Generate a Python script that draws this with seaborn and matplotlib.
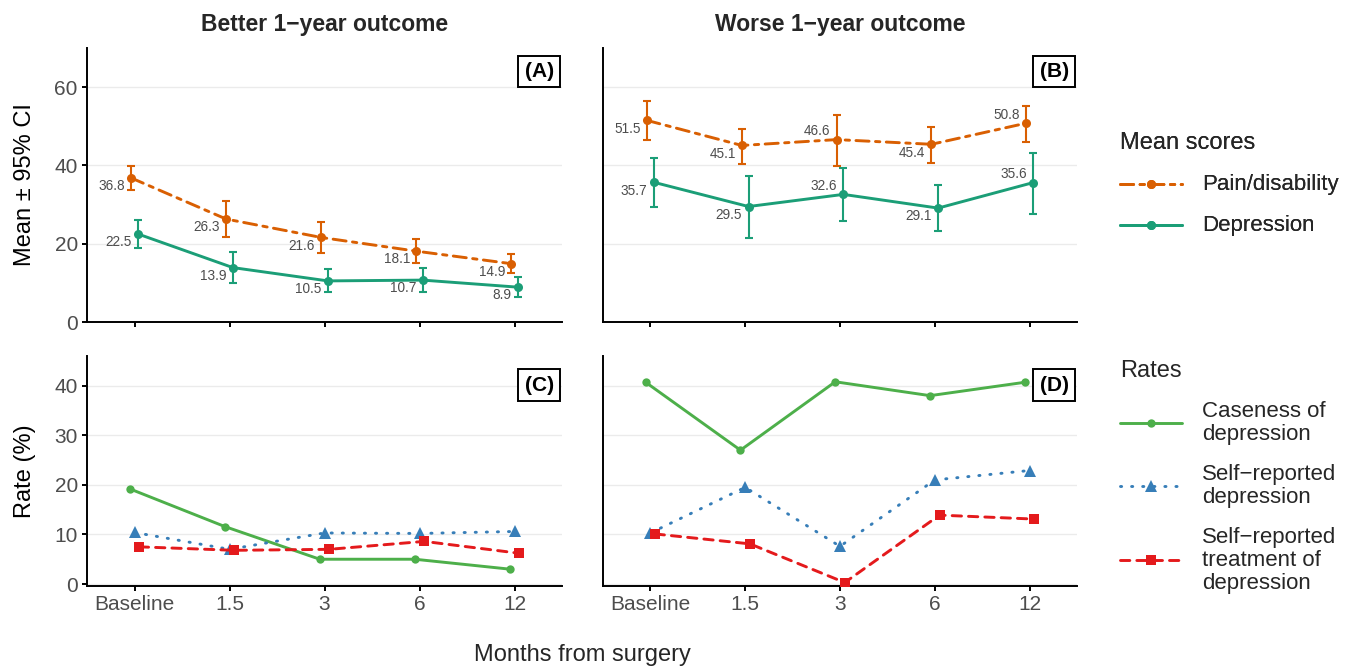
import numpy as np
import pandas as pd
import matplotlib
matplotlib.use("Agg")
import matplotlib.pyplot as plt
from matplotlib.lines import Line2D
import seaborn as sns

months = ["Baseline", "1.5", "3", "6", "12"]

# mean scores with 95% CI
better_pain = [36.8, 26.3, 21.6, 18.1, 14.9]
better_pain_lo = [33.6, 21.7, 17.7, 15.0, 12.4]
better_pain_hi = [39.8, 30.8, 25.6, 21.2, 17.5]
better_dep = [22.5, 13.9, 10.5, 10.7, 8.9]
better_dep_lo = [18.9, 10.0, 7.6, 7.7, 6.4]
better_dep_hi = [26.0, 17.8, 13.5, 13.7, 11.4]

worse_pain = [51.5, 45.1, 46.6, 45.4, 50.8]
worse_pain_lo = [46.4, 40.4, 39.8, 40.6, 45.9]
worse_pain_hi = [56.4, 49.3, 53.0, 49.9, 55.3]
worse_dep = [35.7, 29.5, 32.6, 29.1, 35.6]
worse_dep_lo = [29.4, 21.5, 25.7, 23.2, 27.6]
worse_dep_hi = [42.0, 37.3, 39.3, 34.9, 43.3]

# rates (%)
better_caseness = [19.2, 11.6, 5.0, 5.0, 3.0]
better_selfrep = [10.4, 7.0, 10.3, 10.2, 10.6]
better_treat = [7.5, 6.8, 7.0, 8.6, 6.2]
worse_caseness = [40.7, 27.0, 40.8, 38.0, 40.7]
worse_selfrep = [10.3, 19.5, 7.6, 21.0, 22.9]
worse_treat = [10.1, 8.1, 0.3, 13.9, 13.1]

# where the value labels sit relative to the point
better_label_side = ["below"] * 5
worse_label_side = ["below", "below", "above", "below", "above"]

sns.set_theme(style="white")
plt.rcParams['font.family'] = ['Liberation Sans', 'DejaVu Sans']
plt.rcParams['axes.unicode_minus'] = True
plt.rcParams['lines.dash_capstyle'] = 'round'

ORANGE, TEAL = "#D95F02", "#1B9E77"
GREEN, BLUE, RED = "#4DAF4A", "#377EB8", "#E41A1C"
GREY = "#4D4D4D"

mean_styles = {
    "Pain/disability": dict(color=ORANGE, linestyle=(0, (4.5, 2.2, 1.5, 2.2)), marker="o", markersize=6.5, off=-0.035),
    "Depression": dict(color=TEAL, linestyle="-", marker="o", markersize=6.5, off=0.035),
}
rate_styles = {
    "Caseness of\ndepression": dict(color=GREEN, linestyle="-", marker="o", markersize=6, off=-0.05),
    "Self\u2212reported\ndepression": dict(color=BLUE, linestyle=(0, (0.4, 3.4)), marker="^", markersize=8, off=0.0),
    "Self\u2212reported\ntreatment of\ndepression": dict(color=RED, linestyle=(0, (3.2, 2.4)), marker="s", markersize=7, off=0.05),
}

W, H = 1354, 667
fig = plt.figure(figsize=(W / 100, H / 100), dpi=100)


def px_axes(l, t, r, b):
    return fig.add_axes([l / W, 1 - b / H, (r - l) / W, (b - t) / H])


axA = px_axes(87, 48, 562, 322)
axB = px_axes(603, 48, 1077, 322)
axC = px_axes(87, 356, 562, 586)
axD = px_axes(603, 356, 1077, 586)

x = np.arange(len(months))


def draw_series(ax, name, vals, st):
    df = pd.DataFrame({"x": x + st["off"], "y": vals})
    sns.lineplot(data=df, x="x", y="y", ax=ax, color=st["color"], linestyle=st["linestyle"],
                 marker=st["marker"], markersize=st["markersize"], markeredgewidth=0,
                 linewidth=2.1, legend=False, zorder=3)
    return df


def draw_means(ax, series, sides):
    for name, vals, lo, hi in series:
        st = mean_styles[name]
        vals = np.array(vals)
        ax.errorbar(x + st["off"], vals, yerr=[vals - np.array(lo), np.array(hi) - vals],
                    fmt="none", ecolor=st["color"], elinewidth=1.5, capsize=3, capthick=1.5, zorder=2)
        df = draw_series(ax, name, vals, st)
        for xi, yi, side in zip(df.x, df.y, sides):
            dy = -6 if side == "below" else 6
            ax.annotate(f"{yi:.1f}", xy=(xi, yi), xytext=(-4.5, dy), textcoords="offset points",
                        ha="right", va="center", fontsize=9.8, color=GREY)
    ax.set_ylim(0, 70)
    ax.set_yticks([0, 20, 40, 60])


def draw_rates(ax, series):
    for name, vals in series:
        draw_series(ax, name, vals, rate_styles[name])
    ax.set_ylim(-0.4, 46)
    ax.set_yticks([0, 10, 20, 30, 40])


draw_means(axA, [("Pain/disability", better_pain, better_pain_lo, better_pain_hi),
                 ("Depression", better_dep, better_dep_lo, better_dep_hi)], better_label_side)
draw_means(axB, [("Pain/disability", worse_pain, worse_pain_lo, worse_pain_hi),
                 ("Depression", worse_dep, worse_dep_lo, worse_dep_hi)], worse_label_side)
rate_names = list(rate_styles)
draw_rates(axC, zip(rate_names, [better_caseness, better_selfrep, better_treat]))
draw_rates(axD, zip(rate_names, [worse_caseness, worse_selfrep, worse_treat]))

for ax, letter, oy in [(axA, "(A)", -17), (axB, "(B)", -17), (axC, "(C)", -21), (axD, "(D)", -21)]:
    ax.set_xlim(-0.5, 4.5)
    ax.set_xticks(x)
    ax.set_xticklabels(months)
    ax.set_xlabel("")
    ax.set_ylabel("")
    sns.despine(ax=ax)
    for s in ["left", "bottom"]:
        ax.spines[s].set_color("black")
        ax.spines[s].set_linewidth(1.4)
    ax.yaxis.grid(True, color="#EBEBEB", linewidth=1.0)
    ax.xaxis.grid(False)
    ax.set_axisbelow(True)
    ax.tick_params(axis="both", length=3.6, width=1.4, color="black", labelsize=15,
                   labelcolor=GREY, pad=3, bottom=True, left=True)
    ax.annotate(letter, xy=(1, 1), xycoords="axes fraction", xytext=(-16.5, oy),
                textcoords="offset points", ha="center", va="center", fontsize=15,
                fontweight="bold", color="black",
                bbox=dict(boxstyle="square,pad=0.3", fc="white", ec="black", lw=1.4))

for ax in (axA, axB):
    ax.tick_params(axis="x", labelbottom=False)
for ax in (axB, axD):
    ax.tick_params(axis="y", length=0, labelleft=False)

axA.set_title("Better 1\u2212year outcome", fontsize=16.5, fontweight="bold", pad=12)
axB.set_title("Worse 1\u2212year outcome", fontsize=16.5, fontweight="bold", pad=12)
axA.set_ylabel("Mean \u00b1 95% CI", fontsize=17, labelpad=13, color="black")
axC.set_ylabel("Rate (%)", fontsize=17, labelpad=13, color="black")
fig.text(582 / W, 1 - 655 / H, "Months from surgery", ha="center", va="center", fontsize=17)


def handles_for(styles):
    return [Line2D([], [], color=st["color"], linestyle=st["linestyle"], linewidth=2.1,
                   marker=st["marker"], markersize=st["markersize"], markeredgewidth=0, label=name)
            for name, st in styles.items()]


def add_legend(styles, title, top, spacing):
    leg = fig.legend(handles=handles_for(styles), title=title, loc="upper left",
                     bbox_to_anchor=(1109 / W, 1 - top / H), frameon=False, fontsize=16,
                     title_fontsize=17, handlelength=2.8, handletextpad=0.9,
                     labelspacing=spacing, alignment="left", borderpad=0)
    for t in leg.get_texts():
        t.set_linespacing(1.1)
    for col in leg._legend_handle_box.get_children():
        for item in col.get_children():
            item.align = "center"
    return leg


leg1 = add_legend(mean_styles, "Mean scores", 121, 0.89)
add_legend(rate_styles, "Rates", 349, 0.87)
fig.add_artist(leg1)

fig.savefig("out.png", dpi=100)
